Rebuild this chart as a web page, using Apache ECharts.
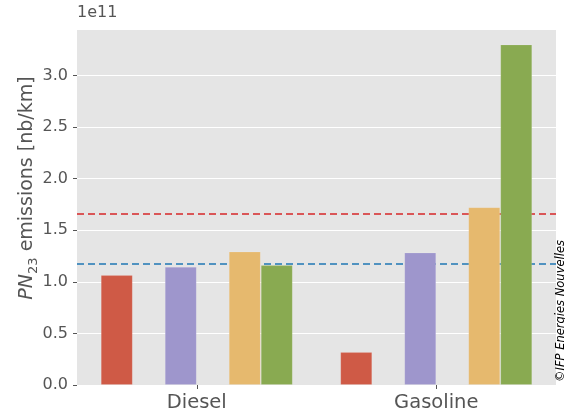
<!DOCTYPE html>
<html>
<head>
<meta charset="utf-8">
<script src="https://cdn.jsdelivr.net/npm/echarts@6/dist/echarts.min.js"></script>
<style>
html,body{margin:0;padding:0;background:#fff;}
#c{width:565px;height:417px;}
</style>
</head>
<body>
<div id="c"></div>
<script>
// Data (values in nb/km)
const categories = ['Diesel', 'Gasoline'];
const seriesNames = ['S1', 'S2', 'S3', 'S4', 'S5', 'S6'];
const s1Values = [1.065e11, 0.319e11];
const s2Values = [null, null];
const s3Values = [1.145e11, 1.284e11];
const s4Values = [null, null];
const s5Values = [1.293e11, 1.723e11];
const s6Values = [1.162e11, 3.30e11];
const refRed = 1.661e11;
const refBlue = 1.171e11;
const yTickStep = 0.5e11;
const yMax = 3.45e11;

const seriesValues = [s1Values, s2Values, s3Values, s4Values, s5Values, s6Values];
const seriesColors = ['#CF5A46', '#348ABD', '#9E96CC', '#777777', '#E6B96E', '#89AA51'];

const font = 'DejaVu Sans';
const chart = echarts.init(document.getElementById('c'), null, {renderer: 'canvas'});

const barSeries = seriesValues.map((vals, i) => ({
  name: seriesNames[i],
  type: 'bar',
  data: vals.map(v => v === null ? '-' : v),
  barWidth: 32,
  barGap: '0%',
  z: 3,
  itemStyle: {color: seriesColors[i], borderColor: 'rgba(255,255,255,0.12)', borderWidth: 1}
}));

const option = {
  backgroundColor: '#ffffff',
  animation: false,
  grid: {left: 77, right: 9, top: 29, bottom: 32, show: true, backgroundColor: '#E5E5E5', borderWidth: 0},
  xAxis: {
    type: 'category',
    data: categories,
    axisLine: {show: false},
    axisTick: {show: true, alignWithLabel: true, length: 4, lineStyle: {color: '#555555'}},
    axisLabel: {fontFamily: font, fontSize: 19.5, color: '#555555', margin: 8},
    splitLine: {show: false}
  },
  yAxis: {
    type: 'value',
    min: 0,
    max: yMax,
    interval: yTickStep,
    axisLine: {show: false},
    axisTick: {show: true, length: 4, lineStyle: {color: '#555555'}},
    axisLabel: {
      fontFamily: font, fontSize: 16, color: '#555555', margin: 9, showMaxLabel: false,
      formatter: v => (Math.abs(v / yTickStep - Math.round(v / yTickStep)) < 1e-6) ? (v / 1e11).toFixed(1) : ''
    },
    splitLine: {show: true, lineStyle: {color: '#ffffff', width: 1}}
  },
  series: barSeries.concat([{
    name: 'refs',
    type: 'line',
    data: [],
    z: 1,
    silent: true,
    markLine: {
      silent: true,
      symbol: ['none', 'none'],
      label: {show: false},
      z: 1,
      data: [
        {yAxis: refRed, lineStyle: {color: '#D62728', type: [7, 4], width: 1.6}},
        {yAxis: refBlue, lineStyle: {color: '#1F77B4', type: [7, 4], width: 1.6}}
      ]
    }
  }]),
  graphic: [
    {type: 'text', left: 77, top: 5, style: {text: '1e11', font: '16px "DejaVu Sans"', fill: '#555555'}},
    {type: 'text', x: 27, y: 188, rotation: Math.PI / 2,
     style: {
       text: '{i|PN}{s|23}{n| emissions [nb/km]}',
       align: 'center', verticalAlign: 'middle', fill: '#555555',
       rich: {
         i: {fontFamily: font, fontSize: 19, fontStyle: 'italic', fill: '#555555', verticalAlign: 'middle', lineHeight: 26},
         s: {fontFamily: font, fontSize: 13, fill: '#555555', verticalAlign: 'bottom', lineHeight: 26},
         n: {fontFamily: font, fontSize: 19, fill: '#555555', verticalAlign: 'middle', lineHeight: 26}
       }
     }},
    {type: 'text', x: 561, y: 311, rotation: Math.PI / 2,
     style: {text: '©IFP Energies Nouvelles', font: 'italic 11.5px "DejaVu Sans"', fill: '#000000', align: 'center', verticalAlign: 'middle'}}
  ]
};
chart.setOption(option);
</script>
</body>
</html>
